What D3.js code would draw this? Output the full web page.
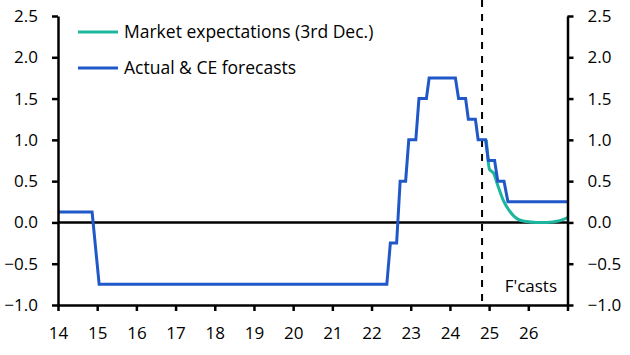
<!DOCTYPE html>
<html>
<head>
<meta charset="utf-8">
<script src="https://cdn.jsdelivr.net/npm/d3@7"></script>
<style>
  html, body { margin: 0; padding: 0; background: #fff; }
  svg { display: block; }
  text { font-family: "Open Sans", sans-serif; fill: #000; }
</style>
</head>
<body>
<svg id="chart" width="630" height="355"></svg>
<script>
// ---- Data ----
const xTicks = [14, 15, 16, 17, 18, 19, 20, 21, 22, 23, 24, 25, 26, 27];
const xTickLabels = ["14", "15", "16", "17", "18", "19", "20", "21", "22", "23", "24", "25", "26", ""];
const yTicks = [-1.0, -0.5, 0.0, 0.5, 1.0, 1.5, 2.0, 2.5];

const seriesNames = ["Market expectations (3rd Dec.)", "Actual & CE forecasts"];

const actualDates = [14.0, 14.87, 15.05, 22.39, 22.48, 22.64, 22.73, 22.87, 22.95, 23.13, 23.21, 23.40, 23.47,
                     24.14, 24.22, 24.40, 24.47, 24.65, 24.72, 24.91, 24.98, 25.14, 25.22, 25.38, 25.48, 27.0];
const actualRates = [0.125, 0.125, -0.75, -0.75, -0.25, -0.25, 0.5, 0.5, 1.0, 1.0, 1.5, 1.5, 1.75,
                     1.75, 1.5, 1.5, 1.25, 1.25, 1.0, 1.0, 0.75, 0.75, 0.5, 0.5, 0.25, 0.25];

const marketDates = [24.93, 25.01, 25.06, 25.11, 25.22, 25.35, 25.52, 25.73, 25.95, 26.2, 26.46, 26.8, 27.0];
const marketRates = [1.0, 0.64, 0.62, 0.60, 0.45, 0.28, 0.14, 0.04, 0.01, 0.0, 0.0, 0.02, 0.06];

const forecastStart = 24.82;
const forecastLabel = "F'casts";

// ---- Layout ----
const svg = d3.select("#chart");
const mLeft = 58, mRight = 567.5, mTop = 16, mBottom = 305;
const x = d3.scaleLinear().domain([14, 27]).range([mLeft, mRight]);
const y = d3.scaleLinear().domain([-1, 2.5]).range([mBottom, mTop]);

const blue = "#2158c8", teal = "#1cb59e";
const fmt = d3.format(".1f");

// zero line
svg.append("line")
  .attr("x1", mLeft).attr("x2", mRight)
  .attr("y1", y(0)).attr("y2", y(0))
  .attr("stroke", "#000").attr("stroke-width", 2.5);

// forecast divider
svg.append("line")
  .attr("x1", x(forecastStart)).attr("x2", x(forecastStart))
  .attr("y1", 0).attr("y2", mBottom)
  .attr("stroke", "#000").attr("stroke-width", 2)
  .attr("stroke-dasharray", "7,7");

svg.append("text")
  .attr("x", 557).attr("y", 292)
  .attr("text-anchor", "end")
  .style("font-size", "17px")
  .text(forecastLabel);

// lines
const lineActual = d3.line().x(d => x(d[0])).y(d => y(d[1]));
const lineMarket = d3.line().x(d => x(d[0])).y(d => y(d[1])).curve(d3.curveMonotoneX);

svg.append("path")
  .datum(marketDates.map((d, i) => [d, marketRates[i]]))
  .attr("d", lineMarket)
  .attr("fill", "none").attr("stroke", teal).attr("stroke-width", 3);

svg.append("path")
  .datum(actualDates.map((d, i) => [d, actualRates[i]]))
  .attr("d", lineActual)
  .attr("fill", "none").attr("stroke", blue).attr("stroke-width", 3)
  .attr("stroke-linejoin", "miter");

// axes
function styleAxis(g) {
  g.select(".domain").attr("stroke", "#000").attr("stroke-width", 2.5);
  g.selectAll(".tick line").attr("stroke", "#000").attr("stroke-width", 2.5);
  g.selectAll(".tick text").style("font-size", "17px").style("font-family", "'Open Sans', sans-serif").attr("fill", "#000");
}

svg.append("g")
  .attr("transform", `translate(${mLeft},0)`)
  .call(d3.axisLeft(y).tickValues(yTicks).tickFormat(fmt).tickSize(6).tickSizeOuter(0).tickPadding(14))
  .call(styleAxis);

svg.append("g")
  .attr("transform", `translate(${mRight},0)`)
  .call(d3.axisRight(y).tickValues(yTicks).tickFormat(fmt).tickSize(6).tickSizeOuter(0).tickPadding(14))
  .call(styleAxis);

svg.append("g")
  .attr("transform", `translate(0,${mBottom})`)
  .call(d3.axisBottom(x).tickValues(xTicks).tickFormat((d, i) => xTickLabels[i]).tickSize(6).tickSizeOuter(0).tickPadding(16))
  .call(styleAxis);

// legend
const legendColors = [teal, blue];
const legendY = [32, 68];
seriesNames.forEach((name, i) => {
  svg.append("line")
    .attr("x1", 78).attr("x2", 118)
    .attr("y1", legendY[i]).attr("y2", legendY[i])
    .attr("stroke", legendColors[i]).attr("stroke-width", 3);
  svg.append("text")
    .attr("x", 124).attr("y", legendY[i] + 6.4)
    .style("font-size", "17.5px")
    .text(name);
});
</script>
</body>
</html>
